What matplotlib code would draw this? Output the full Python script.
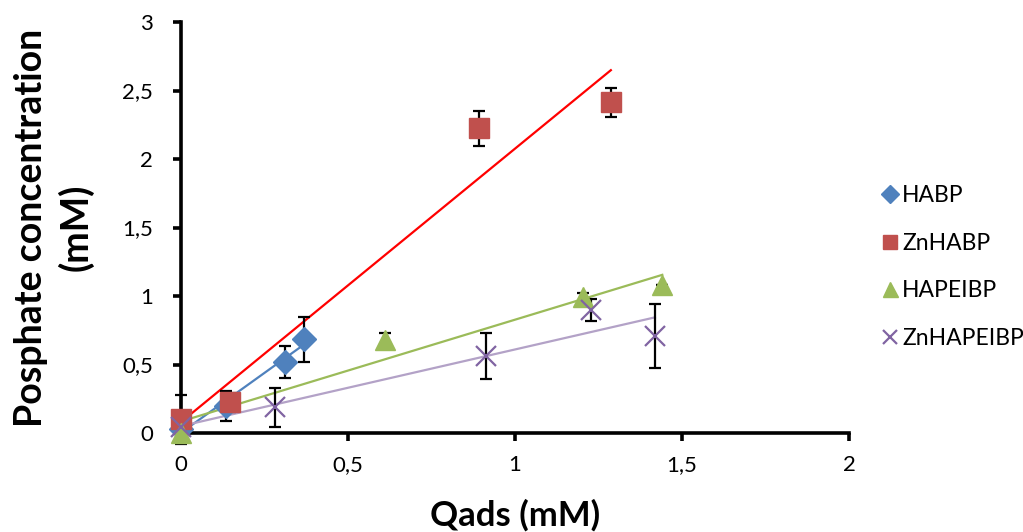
import numpy as np
import matplotlib
matplotlib.use("Agg")
import matplotlib.pyplot as plt

plt.rcParams['font.family'] = ['Lato', 'DejaVu Sans']

# Adsorbed amount (mM) vs phosphate concentration (mM) per material
habp_x = [0.0, 0.135, 0.311, 0.369]
habp_y = [0.03, 0.20, 0.518, 0.684]
habp_err = [0.0, 0.11, 0.12, 0.165]

znhabp_x = [0.0, 0.147, 0.893, 1.287]
znhabp_y = [0.10, 0.225, 2.224, 2.414]
znhabp_err = [0.18, 0.07, 0.13, 0.105]

hapeibp_x = [0.0, 0.611, 1.203, 1.441]
hapeibp_y = [0.0, 0.68, 0.995, 1.08]
hapeibp_err = [0.0, 0.05, 0.03, 0.0]

znhapeibp_x = [0.0, 0.281, 0.913, 1.227, 1.419]
znhapeibp_y = [0.045, 0.187, 0.562, 0.898, 0.708]
znhapeibp_err = [0.0, 0.145, 0.17, 0.078, 0.23]

series_names = ['HABP', 'ZnHABP', 'HAPEIBP', 'ZnHAPEIBP']
x_ticks = [0, 0.5, 1, 1.5, 2]
x_tick_labels = ['0', '0,5', '1', '1,5', '2']
y_ticks = [0, 0.5, 1, 1.5, 2, 2.5, 3]
y_tick_labels = ['0', '0,5', '1', '1,5', '2', '2,5', '3']

W, H = 1023, 532
fig = plt.figure(figsize=(W / 100, H / 100), dpi=100)
ax = fig.add_axes([181 / W, (H - 433) / H, 668 / W, 411 / H])

series = [
    (habp_x, habp_y, habp_err, dict(marker='D', color='#4F81BD', ms=12.5, mec='#4F81BD'), '#4F81BD'),
    (znhabp_x, znhabp_y, znhabp_err, dict(marker='s', color='#C0504D', ms=14.5, mec='#C0504D'), '#FF0000'),
    (hapeibp_x, hapeibp_y, hapeibp_err, dict(marker='^', color='#9BBB59', ms=15, mec='#9BBB59'), '#9BBB59'),
    (znhapeibp_x, znhapeibp_y, znhapeibp_err, dict(marker='x', color='#8064A2', ms=14, mew=1.6), '#B3A2C7'),
]

handles = []
for (xs, ys, es, mstyle, lcol), name in zip(series, series_names):
    xs = np.asarray(xs)
    ys = np.asarray(ys)
    # linear trend line over the data range
    slope, icpt = np.polyfit(xs, ys, 1)
    xl = np.array([xs.min(), xs.max()])
    ax.plot(xl, slope * xl + icpt, color=lcol, lw=1.6, zorder=2)
    ax.errorbar(xs, ys, yerr=es, fmt='none', ecolor='black', elinewidth=1.6,
                capsize=4.5, capthick=1.6, zorder=3)
    h, = ax.plot(xs, ys, ls='none', zorder=4, label=name, **mstyle)
    handles.append(h)

ax.set_xlim(0, 2)
ax.set_ylim(0, 3)
ax.set_xticks(x_ticks)
ax.set_xticklabels(x_tick_labels)
ax.set_yticks(y_ticks)
ax.set_yticklabels(y_tick_labels)

for s in ['top', 'right']:
    ax.spines[s].set_visible(False)
for s in ['left', 'bottom']:
    ax.spines[s].set_linewidth(2.6)
    ax.spines[s].set_color('black')
ax.tick_params(axis='both', direction='out', length=6, width=2.6,
               labelsize=16, colors='black')
ax.tick_params(axis='y', pad=14)
ax.tick_params(axis='x', pad=10)
for art in ax.lines + ax.collections:
    art.set_clip_on(False)

ax.set_xlabel('Qads (mM)', fontsize=25, fontweight='bold')
ax.xaxis.set_label_coords(0.5, -(515 - 433) / 411)
ax.xaxis.label.set_va('center')
ax.set_ylabel('Posphate concentration\n(mM)', fontsize=27, fontweight='bold',
              linespacing=1.3)
ax.yaxis.set_label_coords(-(181 - 54) / 668, 0.5)
ax.yaxis.label.set_va('center')

leg = fig.legend(handles=handles, labels=series_names, loc='center left',
                 bbox_to_anchor=(869 / W, 1 - 267 / H), frameon=False,
                 fontsize=16.5, handlelength=0.8, handletextpad=0.15,
                 labelspacing=1.15, markerscale=0.72, borderpad=0)

fig.savefig('out.png', dpi=100)
